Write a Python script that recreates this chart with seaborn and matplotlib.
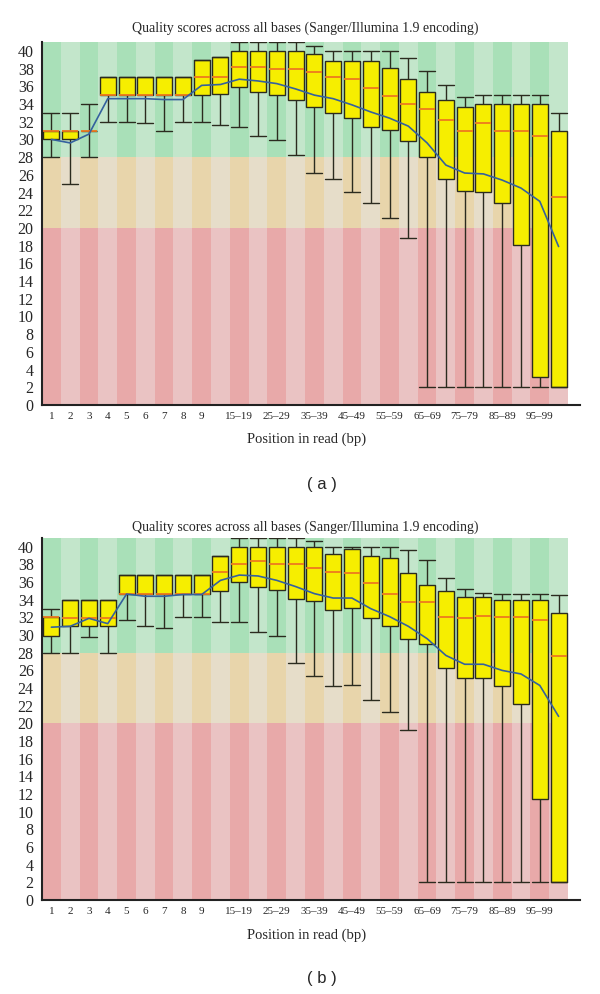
import numpy as np
import pandas as pd
import matplotlib
matplotlib.use('Agg')
import matplotlib.pyplot as plt
import seaborn as sns

# read positions (bp), FastQC style grouping after base 9
positions = ['1', '2', '3', '4', '5', '6', '7', '8', '9',
             '10–14', '15–19', '20–24', '25–29', '30–34', '35–39', '40–44',
             '45–49', '50–54', '55–59', '60–64', '65–69', '70–74', '75–79',
             '80–84', '85–89', '90–94', '95–99', '100–101']
shown_labels = ['1', '2', '3', '4', '5', '6', '7', '8', '9', '15–19', '25–29',
                '35–39', '45–49', '55–59', '65–69', '75–79', '85–89', '95–99']

# panel (a)
low_a = [28, 25, 28, 32, 32, 31.9, 31, 32, 32, 31.6, 31.4, 30.4, 29.9, 28.2,
         26.2, 25.5, 24.1, 22.8, 21.1, 18.9, 2, 2, 2, 2, 2, 2, 2, 2]
q1_a = [30, 30, 31, 35, 35, 35, 35, 35, 35, 35.1, 35.9, 35.4, 35, 34.5,
        33.7, 33, 32.4, 31.4, 31.1, 29.8, 28, 25.5, 24.2, 24.1, 22.8, 18.1, 3.2, 2]
med_a = [31, 31, 31, 35, 35, 35, 35, 35, 37, 37.1, 38.2, 38.2, 38, 38,
         37.6, 37, 36.8, 35.8, 34.9, 34, 33.4, 32.2, 31, 31.9, 31, 31, 30.4, 23.5]
q3_a = [31, 31, 31, 37, 37, 37, 37, 37, 39, 39.3, 40, 40, 40, 40,
        39.6, 38.9, 38.9, 38.8, 38.1, 36.8, 35.3, 34.5, 33.7, 34, 34, 34, 34, 31]
high_a = [33, 33, 34, 37, 37, 37, 37, 37, 39, 39.3, 41, 41, 41, 41,
          40.5, 40, 40, 40, 40, 39.2, 37.7, 36.1, 34.8, 35, 35, 35, 35, 33]
mean_a = [30.0, 29.6, 30.6, 34.6, 34.6, 34.6, 34.5, 34.5, 36.1, 36.2, 36.8, 36.6,
          36.3, 35.7, 35.0, 34.6, 33.9, 33.1, 32.4, 31.5, 29.6, 27.1, 26.2, 26.1,
          25.4, 24.5, 23.0, 17.9]

# panel (b)
low_b = [28, 28, 29.8, 28, 31.7, 31.0, 30.8, 32.1, 32.1, 31.5, 31.5, 30.4, 29.9, 26.8,
         25.4, 24.2, 24.4, 22.6, 21.3, 19.2, 2, 2, 2, 2, 2, 2, 2, 2]
q1_b = [29.9, 31, 31, 31, 34.7, 34.7, 34.7, 34.7, 34.7, 35.0, 36.05, 35.4, 35.1, 34.1,
        33.9, 32.8, 33.1, 31.9, 31.0, 29.6, 29.0, 26.3, 25.2, 25.2, 24.2, 22.2, 11.4, 2]
med_b = [32, 31.9, 31.9, 31.9, 34.7, 34.7, 34.7, 34.7, 34.7, 37.1, 38.0, 38.4, 38.0, 38.0,
         37.6, 37.1, 37.0, 35.9, 34.7, 33.8, 33.7, 32.0, 31.9, 32.2, 32.0, 32.0, 31.7, 27.6]
q3_b = [32, 34, 34, 34, 36.8, 36.8, 36.8, 36.8, 36.8, 39.0, 40, 40, 40, 40,
        40, 39.2, 39.8, 39.0, 38.7, 37.0, 35.7, 35.0, 34.3, 34.3, 34.0, 34.0, 34.0, 32.5]
high_b = [33, 34, 34, 34, 36.8, 36.8, 36.8, 36.8, 36.8, 39.0, 41, 41, 41, 41,
          40.7, 40, 40, 40, 40, 39.6, 38.5, 36.5, 35.2, 34.8, 34.7, 34.7, 34.7, 34.6]
mean_b = [30.9, 31.0, 31.9, 31.3, 34.65, 34.4, 34.4, 34.6, 34.6, 36.2, 36.8, 36.7,
          36.2, 35.5, 34.7, 34.2, 34.2, 33.0, 32.1, 31.0, 29.6, 27.7, 26.7, 26.7,
          26.0, 25.6, 24.3, 20.8]

# quality zones: (bottom, top, dark stripe, light stripe)
zones = [(0, 20, '#E8A9A9', '#EAC3C3'),
         (20, 28, '#E8D5AB', '#E6DDC9'),
         (28, 41, '#A9E0B8', '#C3E6CB')]

SERIF = 'Liberation Serif'


def quality_panel(ax, low, q1, med, q3, high, mean):
    '''Draw one per-base quality box plot with the coloured quality zones.'''
    # five values per position so that the box stats land exactly on them
    rows = []
    for i, pos in enumerate(positions):
        for v in (low[i], q1[i], med[i], q3[i], high[i]):
            rows.append({'pos': pos, 'q': v})
    df = pd.DataFrame(rows)

    sns.boxplot(data=df, x='pos', y='q', order=positions, whis=(0, 100),
                width=0.85, color='#F6EE00', saturation=1, linecolor='#2b2b1f',
                linewidth=1.0, showfliers=False, capwidths=0.85,
                medianprops={'color': '#EE7A1E', 'linewidth': 1.3}, ax=ax)

    idx = np.arange(len(positions))
    for bottom, top, dark, light in zones:
        colors = [dark if i % 2 == 0 else light for i in idx]
        ax.bar(idx, top - bottom, bottom=bottom, width=1.0, color=colors,
               linewidth=0, zorder=0)

    sns.lineplot(x=idx, y=mean, color='#35619E', linewidth=1.2, zorder=4, ax=ax)

    ax.set_xlim(-0.5, 28.14)
    ax.set_ylim(0, 41)
    ax.set_yticks(range(0, 41, 2))
    ax.set_yticklabels([str(v) for v in range(0, 41, 2)], fontsize=11.5, family=SERIF)
    ticks = [positions.index(p) for p in shown_labels]
    ax.set_xticks(ticks)
    ax.set_xticklabels(shown_labels, fontsize=8, family=SERIF)
    ax.tick_params(length=0, pad=5)
    ax.tick_params(axis='y', pad=6)
    ax.set_xlabel('')
    ax.set_ylabel('')
    for side in ['top', 'right']:
        ax.spines[side].set_visible(False)
    for side in ['left', 'bottom']:
        ax.spines[side].set_color('#222222')
        ax.spines[side].set_linewidth(1.5)


sns.set_style('white')
fig = plt.figure(figsize=(6, 9.94), dpi=100)

ax_a = fig.add_axes([42 / 600, 1 - 405 / 994, 538 / 600, 363 / 994])
quality_panel(ax_a, low_a, q1_a, med_a, q3_a, high_a, mean_a)
ax_b = fig.add_axes([42 / 600, 1 - 900 / 994, 538 / 600, 362 / 994])
quality_panel(ax_b, low_b, q1_b, med_b, q3_b, high_b, mean_b)

title = 'Quality scores across all bases (Sanger/Illumina 1.9 encoding)'
for ytitle, yxlab, ytag, tag in [(28, 439, 484, '( a )'), (527, 935, 978, '( b )')]:
    fig.text(305 / 600, 1 - ytitle / 994, title, ha='center', va='center',
             fontsize=10, family=SERIF)
    fig.text(307 / 600, 1 - yxlab / 994, 'Position in read (bp)', ha='center',
             va='center', fontsize=10.5, family=SERIF)
    fig.text(322 / 600, 1 - ytag / 994, tag, ha='center', va='center',
             fontsize=12, family='Liberation Sans')

fig.savefig('out.png', dpi=100)
